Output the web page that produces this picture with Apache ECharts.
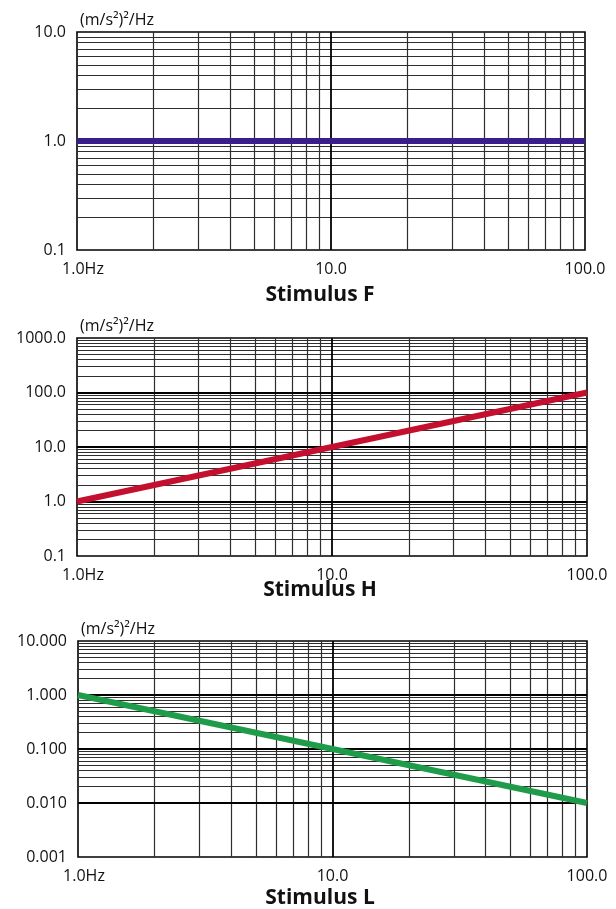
<!DOCTYPE html>
<html>
<head>
<meta charset="utf-8">
<script src="https://cdn.jsdelivr.net/npm/echarts@6/dist/echarts.min.js"></script>
<style>
html,body{margin:0;padding:0;background:#fff;}
#c{width:616px;height:909px;}
</style>
</head>
<body>
<div id="c"></div>
<script>
// ---- data ----
const freqs = [1, 100];                 // Hz
const stimF = [1, 1];                   // (m/s²)²/Hz
const stimH = [1, 100];
const stimL = [1, 0.01];
const titles = ['Stimulus F', 'Stimulus H', 'Stimulus L'];
const yRanges = [[0.1, 10], [0.1, 1000], [0.001, 10]];
const yDigits = [1, 1, 3];
const xRange = [1, 100];
const xMajorGrid = [10];
const xMinorGrid = [2, 3, 4, 5, 6, 7, 8, 9, 20, 30, 40, 50, 60, 70, 80, 90];
const yMajorGrids = [[1], [1, 10, 100], [0.01, 0.1, 1]];
const yDecades = [[0.1, 1], [0.1, 1, 10, 100], [0.001, 0.01, 0.1, 1]];
const minorSteps = [2, 3, 4, 5, 6, 7, 8, 9];
const colors = ['#3b1e8e', '#c4102e', '#1f9c4a'];
const seriesData = [stimF, stimH, stimL];
const unitName = '(m/s²)²/Hz';

const FONT = 'Open Sans';
const grids = [
  {left: 77, top: 32, width: 508, height: 218},
  {left: 77, top: 338, width: 510, height: 218},
  {left: 78, top: 641, width: 509, height: 216}
];
const titleY = [295, 590, 898];

const chart = echarts.init(document.getElementById('c'), null, {renderer: 'canvas'});

const option = {
  animation: false,
  backgroundColor: '#fff',
  grid: grids.map(g => Object.assign({show: true, borderColor: '#000', borderWidth: 1.6, backgroundColor: '#fff'}, g)),
  xAxis: grids.map((g, i) => ({
    type: 'log', logBase: 10, gridIndex: i, min: xRange[0], max: xRange[1],
    axisLine: {show: false}, axisTick: {show: false}, splitLine: {show: false},
    axisLabel: {
      margin: 11, color: '#111', fontFamily: FONT, fontSize: 16,
      formatter: v => Math.abs(v - 1) < 1e-6 ? '{hz|1.0Hz}' : '{n|' + v.toFixed(1) + '}',
      rich: {
        hz: {padding: [0, 0, 0, 12], fontFamily: FONT, fontSize: 16, color: '#111'},
        n: {fontFamily: FONT, fontSize: 16, color: '#111'}
      }
    }
  })),
  yAxis: grids.map((g, i) => ({
    type: 'log', logBase: 10, gridIndex: i, min: yRanges[i][0], max: yRanges[i][1],
    axisLine: {show: false}, axisTick: {show: false}, splitLine: {show: false},
    name: unitName, nameLocation: 'end', nameGap: 12,
    nameTextStyle: {align: 'left', verticalAlign: 'middle', fontFamily: FONT, fontSize: 16, color: '#111', padding: [0, 0, 0, 3]},
    axisLabel: {
      margin: 11, color: '#111', fontFamily: FONT, fontSize: 16,
      formatter: v => v.toFixed(yDigits[i])
    }
  })),
  graphic: titles.map((t, i) => ({
    type: 'text', x: 320, y: titleY[i],
    style: {text: t, textAlign: 'center', textVerticalAlign: 'middle', font: 'bold 21px "' + FONT + '"', fill: '#111'}
  })),
  series: []
};

grids.forEach((g, i) => {
  const yMinor = [];
  yDecades[i].forEach(d => minorSteps.forEach(s => yMinor.push(+(d * s).toPrecision(3))));
  const minorStyle = {color: '#2e2e2e', width: 1.2, type: 'solid'};
  const majorStyle = {color: '#000', width: 1.8, type: 'solid'};
  const mlData = []
    .concat(xMinorGrid.map(v => ({xAxis: v, lineStyle: minorStyle})))
    .concat(yMinor.map(v => ({yAxis: v, lineStyle: minorStyle})))
    .concat(xMajorGrid.map(v => ({xAxis: v, lineStyle: majorStyle})))
    .concat(yMajorGrids[i].map(v => ({yAxis: v, lineStyle: majorStyle})));
  option.series.push({
    type: 'line', xAxisIndex: i, yAxisIndex: i, data: [], z: 1, silent: true,
    markLine: {silent: true, symbol: ['none', 'none'], label: {show: false}, animation: false, data: mlData}
  });
  option.series.push({
    type: 'line', xAxisIndex: i, yAxisIndex: i, z: 5, symbol: 'none', silent: true,
    lineStyle: {color: colors[i], width: 6},
    data: freqs.map((f, k) => [f, seriesData[i][k]])
  });
});

chart.setOption(option);
</script>
</body>
</html>
